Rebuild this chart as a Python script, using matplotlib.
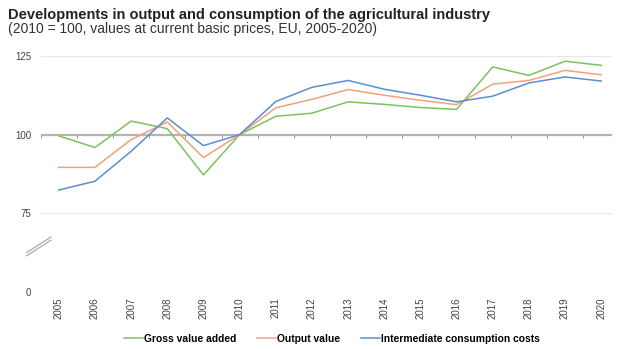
import numpy as np
import matplotlib
matplotlib.use('Agg')
import matplotlib.pyplot as plt
import matplotlib.transforms as mtransforms

# Data (2010 = 100)
years = [str(y) for y in range(2005, 2021)]
gross_value_added = [99.6, 95.9, 104.3, 101.9, 87.2, 100.0, 105.8, 106.8, 110.4,
                     109.6, 108.6, 108.0, 121.5, 118.8, 123.3, 122.0]
output_value = [89.6, 89.6, 98.4, 104.0, 92.7, 100.0, 108.5, 111.2, 114.3,
                112.5, 110.9, 109.5, 116.0, 117.2, 120.4, 119.0]
intermediate_costs = [82.4, 85.2, 94.7, 105.3, 96.5, 100.0, 110.5, 115.0, 117.2,
                      114.4, 112.5, 110.4, 112.2, 116.4, 118.3, 117.0]

# broken axis: the '0' label sits where 50 would be
ytick_pos = [50, 75, 100, 125]
ytick_labels = ['0', '75', '100', '125']

plt.rcParams['font.family'] = ['Liberation Sans', 'DejaVu Sans']

fig = plt.figure(figsize=(6.17, 3.49), dpi=100)
ax = fig.add_axes([0.066, 0.163, 0.926, 0.695])

x = np.arange(len(years))

# Grid lines
for yv in ytick_pos:
    if yv != 100:
        ax.axhline(yv, color='#e8e8e8', lw=0.8, zorder=0)
ax.axhline(100, color='#b4b4b4', lw=1.6, zorder=1)
# little tick marks on the 100 line at category boundaries
ax.vlines(np.arange(-0.5, len(years) - 1, 1.0), 99.0, 100, color='#999999', lw=0.8, zorder=1)

ax.plot(x, gross_value_added, color='#7cc35f', lw=1.1, label='Gross value added', zorder=3)
ax.plot(x, output_value, color='#f3a07c', lw=1.1, label='Output value', zorder=3)
ax.plot(x, intermediate_costs, color='#5a8fcf', lw=1.1, label='Intermediate consumption costs', zorder=3)

ax.set_xlim(-0.5, 15.3)
ax.set_ylim(50, 127)
ax.set_yticks(ytick_pos)
ax.set_yticklabels(ytick_labels)
ax.set_xticks(x)
ax.set_xticklabels(years, rotation=90)
ax.tick_params(axis='both', length=0, labelsize=7, labelcolor='#444444')
ax.tick_params(axis='x', pad=4)
ax.tick_params(axis='y', pad=7)
for s in ax.spines.values():
    s.set_visible(False)

# axis break symbol
trans = mtransforms.blended_transform_factory(ax.transAxes, ax.transData)
for dy in (0, 1.0):
    ax.plot([-0.025, 0.018], [61.5 + dy, 66.5 + dy], color='#aaaaaa', lw=0.9,
            transform=trans, clip_on=False)

fig.text(0.013, 0.957, 'Developments in output and consumption of the agricultural industry',
         fontsize=10.5, fontweight='bold', color='#222222', va='center')
fig.text(0.013, 0.917, '(2010 = 100, values at current basic prices, EU, 2005-2020)',
         fontsize=10, color='#333333', va='center')

fig.legend(loc='center', bbox_to_anchor=(0.538, 0.03), ncol=3, frameon=False,
           handlelength=1.85, handletextpad=0.1, columnspacing=2.0,
           prop={'weight': 'bold', 'size': 7.4})

fig.savefig('out.png', dpi=100, facecolor='white')
